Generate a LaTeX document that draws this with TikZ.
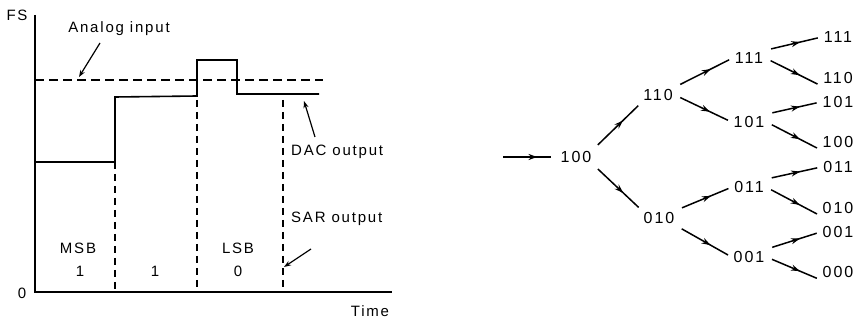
\documentclass[tikz,border=0pt]{standalone}
\usepackage{fontspec}
\setmainfont{Liberation Sans}[LetterSpace=12]
\usetikzlibrary{arrows.meta,decorations.markings}

\begin{document}
\begin{tikzpicture}[
  x=1pt, y=-1pt,
  lbl/.style={font=\fontsize{15}{17}\selectfont, inner sep=1pt},
  code/.style={font=\fontsize{16}{18}\selectfont, inner sep=2pt},
  midarr/.style={line width=1.5pt, postaction={decorate},
    decoration={markings, mark=at position .62 with {\arrow{Stealth[length=9pt,width=6pt]}}}},
  edge/.style={midarr, shorten <=6pt, shorten >=4pt},
  ptr/.style={line width=1.2pt, -{Stealth[length=7pt,width=5pt]}},
  vdash/.style={line width=1.2pt, dash pattern=on 7pt off 5pt}
]
  \useasboundingbox (0,0) rectangle (857,320);

  \draw[line width=1.4pt] (35,15) -- (35,292) -- (392,292);
  \node[lbl] (fs)   at (17,15)  {FS};
  \node[lbl] (zero) at (22,293) {0};
  \node[lbl] (time) at (370,311) {Time};

  \draw[line width=1.2pt, dash pattern=on 9pt off 5pt] (35,80) -- (323,80);
  \draw[line width=1.6pt] (35,162) -- (115,162) -- (115,97) -- (197,96) -- (197,60)
      -- (237,60) -- (237,94) -- (319,94);
  \draw[vdash] (115,162) -- (115,292);
  \draw[vdash] (197,100) -- (197,292);
  \draw[vdash] (283,100) -- (283,292);

  \node[lbl] (ain) at (119,29) {Analog input};
  \coordinate (ainA) at (100,43);
  \coordinate (ainB) at (79,77);
  \draw[ptr] (ainA) -- (ainB);

  \node[lbl, anchor=west] (dac) at (290,152) {DAC output};
  \coordinate (dacA) at (315,137);
  \coordinate (dacB) at (304,101);
  \draw[ptr] (dacA) -- (dacB);

  \node[lbl, anchor=west] (sar) at (290,219) {SAR output};
  \coordinate (sarA) at (311,249);
  \coordinate (sarB) at (284,267);
  \draw[ptr] (sarA) -- (sarB);

  \node[lbl] (msb) at (78,248)  {MSB};
  \node[lbl] (b1)  at (80,271)  {1};
  \node[lbl] (b2)  at (155,271) {1};
  \node[lbl] (lsb) at (238,248) {LSB};
  \node[lbl] (b3)  at (238,271) {0};

  \coordinate (in) at (503,157);
  \node[code] (r100) at (576,157) {100};
  \node[code] (n110) at (658,95)  {110};
  \node[code] (n010) at (659,218) {010};
  \node[code] (n111) at (749,58)  {111};
  \node[code] (n101) at (749,122) {101};
  \node[code] (n011) at (749,187) {011};
  \node[code] (n001) at (749,257) {001};
  \node[code] (l111) at (838,37)  {111};
  \node[code] (l110) at (838,78)  {110};
  \node[code] (l101) at (838,102) {101};
  \node[code] (l100) at (838,142) {100};
  \node[code] (l011) at (838,167) {011};
  \node[code] (l010) at (838,208) {010};
  \node[code] (l001) at (838,232) {001};
  \node[code] (l000) at (838,272) {000};

  \draw[midarr, shorten >=8pt] (in) -- (r100.west);
  \draw[edge] (r100.north east) -- (n110.south west);
  \draw[edge] (r100.south east) -- (n010.north west);
  \draw[edge] (n110.north east) -- (n111.west);
  \draw[edge] (n110.east) -- (n101.west);
  \draw[edge] (n010.north east) -- (n011.west);
  \draw[edge] (n010.south east) -- (n001.west);
  \draw[edge] (n111.north east) -- (l111.west);
  \draw[edge] (n111.east) -- (l110.south west);
  \draw[edge] (n101.north east) -- (l101.west);
  \draw[edge] (n101.east) -- (l100.south west);
  \draw[edge] (n011.north east) -- (l011.west);
  \draw[edge] (n011.east) -- (l010.south west);
  \draw[edge] (n001.north east) -- (l001.west);
  \draw[edge] (n001.east) -- (l000.south west);
\end{tikzpicture}
\end{document}
